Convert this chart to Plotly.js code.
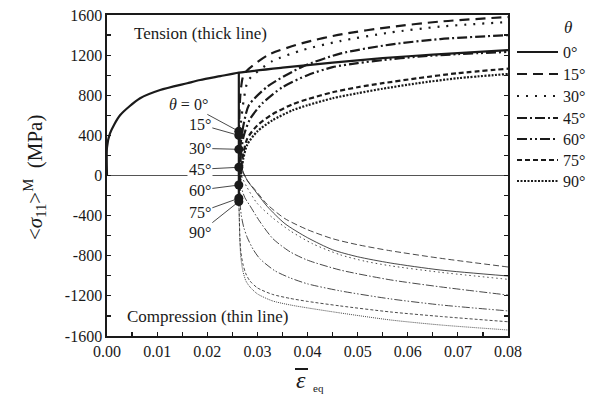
<!DOCTYPE html>
<html><head><meta charset="utf-8">
<script src="https://cdn.plot.ly/plotly-3.0.1.min.js"></script>
<style>html,body{margin:0;padding:0;background:#fff}#c{width:603px;height:396px}</style>
</head><body><div id="c"></div>
<script>
// ---- data ----
const angleNames = ['0°','15°','30°','45°','60°','75°','90°'];
const epsUnload = 0.0263;
// common loading curve (also 0° tension)
const loadX = [0, 0, 0.0006, 0.0026, 0.0066, 0.0106, 0.016, 0.0186, 0.0226, 0.0263, 0.035, 0.045, 0.055, 0.065, 0.08];
const loadY = [0, 280, 420, 600, 770, 852, 920, 952, 990, 1025, 1075, 1125, 1170, 1205, 1250];
// residual stress points after unloading
const dotY = [440, 400, 261, 82, -95, -227, -260];
// tension reloading (thick)
const t15x = [0.0263, 0.0266, 0.0271, 0.0279, 0.0321, 0.039, 0.047, 0.0565, 0.0665, 0.08];
const t15y = [400, 800, 980, 1045, 1200, 1320, 1410, 1480, 1535, 1580];
const t30x = [0.0263, 0.0267, 0.0273, 0.0282, 0.033, 0.039, 0.0465, 0.0565, 0.0665, 0.08];
const t30y = [261, 520, 760, 950, 1140, 1250, 1340, 1425, 1485, 1530];
const t45x = [0.0263, 0.0267, 0.0273, 0.0283, 0.0321, 0.039, 0.0465, 0.0565, 0.0665, 0.08];
const t45y = [82, 330, 520, 700, 890, 1085, 1215, 1305, 1360, 1400];
const t60x = [0.0263, 0.0266, 0.0272, 0.0285, 0.031, 0.035, 0.040, 0.045, 0.050, 0.055, 0.062, 0.07, 0.08];
const t60y = [-95, 150, 380, 560, 720, 880, 1000, 1080, 1120, 1150, 1185, 1210, 1232];
const t75x = [0.0263, 0.0266, 0.0272, 0.028, 0.030, 0.033, 0.037, 0.040, 0.045, 0.050, 0.055, 0.062, 0.07, 0.08];
const t75y = [-227, 0, 220, 370, 500, 610, 710, 760, 830, 880, 920, 970, 1020, 1065];
const t90x = [0.0263, 0.0266, 0.0272, 0.028, 0.030, 0.033, 0.037, 0.040, 0.045, 0.050, 0.055, 0.062, 0.07, 0.08];
const t90y = [-260, -50, 170, 310, 440, 550, 650, 700, 770, 820, 865, 920, 970, 1012];
// compression reloading (thin)
const c0x = [0.0263, 0.0266, 0.0270, 0.0280, 0.0295, 0.032, 0.0355, 0.040, 0.045, 0.050, 0.0565, 0.0665, 0.08];
const c0y = [440, 250, 60, -50, -150, -310, -480, -620, -740, -810, -872, -942, -1002];
const c15x = [0.0263, 0.0266, 0.0270, 0.0280, 0.0295, 0.032, 0.0355, 0.040, 0.045, 0.050, 0.0565, 0.0665, 0.08];
const c15y = [400, 230, 50, -50, -140, -290, -430, -540, -630, -690, -750, -825, -912];
const c30x = [0.0263, 0.0266, 0.0270, 0.0279, 0.0299, 0.033, 0.0365, 0.041, 0.0465, 0.0515, 0.0565, 0.0665, 0.08];
const c30y = [261, 100, -20, -115, -274, -420, -550, -680, -790, -855, -900, -965, -1035];
const c45x = [0.0263, 0.0267, 0.0275, 0.0285, 0.0305, 0.0331, 0.0365, 0.0399, 0.0465, 0.0565, 0.0665, 0.08];
const c45y = [82, -100, -220, -300, -460, -630, -760, -842, -942, -1040, -1110, -1192];
const c60x = [0.0263, 0.0265, 0.0268, 0.0273, 0.0280, 0.0292, 0.0305, 0.0335, 0.0365, 0.040, 0.0465, 0.0565, 0.0665, 0.08];
const c60y = [-95, -250, -400, -520, -620, -740, -830, -950, -1020, -1080, -1150, -1230, -1290, -1350];
const c75x = [0.0263, 0.0264, 0.0265, 0.0267, 0.0271, 0.0277, 0.0285, 0.030, 0.033, 0.0365, 0.040, 0.0465, 0.0565, 0.0665, 0.08];
const c75y = [-227, -420, -600, -760, -880, -980, -1050, -1120, -1185, -1225, -1255, -1300, -1360, -1405, -1458];
const c90x = [0.0263, 0.0264, 0.0265, 0.0267, 0.0271, 0.0277, 0.0285, 0.030, 0.033, 0.0365, 0.040, 0.0465, 0.0565, 0.0665, 0.08];
const c90y = [-260, -450, -650, -820, -950, -1050, -1110, -1180, -1250, -1290, -1320, -1370, -1440, -1490, -1540];
// axis ticks
const yTickVals = [-1600, -1200, -800, -400, 0, 400, 800, 1200, 1600];
const yTickText = ['-1600', '-1200', '-800', '-400', '0', '400', '800', '1200', '1600'];

// ---- styles ----
const ink = '#1a1a1a';
const thickW = 2.2, thinW = 0.8;
const thickDash = ['solid', '10px,6px', '2px,7px', '10px,3px,2px,3px', '10px,3px,2px,3px,2px,3px', '5px,3px', '2px,1.5px'];
const thinDash = ['solid', '6px,3px', '1.5px,3px', '8px,2px,1.5px,2px', '8px,2px,1.5px,2px,1.5px,2px', '3px,2px', '1px,1px'];
const tensX = [loadX, t15x, t30x, t45x, t60x, t75x, t90x];
const tensY = [loadY, t15y, t30y, t45y, t60y, t75y, t90y];
const compX = [c0x, c15x, c30x, c45x, c60x, c75x, c90x];
const compY = [c0y, c15y, c30y, c45y, c60y, c75y, c90y];

const traces = [];
for (let i = 0; i < 7; i++) {
  traces.push({x: compX[i], y: compY[i], mode: 'lines', showlegend: false, hoverinfo: 'skip',
    line: {color: ink, width: thinW, dash: thinDash[i], shape: 'spline', smoothing: 0.7}});
}
for (let i = 0; i < 7; i++) {
  traces.push({x: tensX[i], y: tensY[i], mode: 'lines', name: angleNames[i], showlegend: false,
    line: {color: ink, width: thickW, dash: thickDash[i], shape: 'spline', smoothing: 0.7}});
}
// unloading line
traces.push({x: [epsUnload, epsUnload], y: [loadY[9], dotY[6]], mode: 'lines', showlegend: false,
  line: {color: ink, width: thickW}});
// residual points
traces.push({x: dotY.map(() => epsUnload), y: dotY, mode: 'markers', showlegend: false,
  marker: {color: ink, size: 9}});

const font = 'Liberation Serif, Times New Roman, serif';
const P = (px) => (px - 107) / 401, Q = (py) => (336 - py) / 321;

const labelOff = [[-50, -27], [-39, -11], [-39, -1], [-39, 2], [-39, 5], [-39, 14], [-39, 31]];
const labelText = ['<i>θ</i> = 0°', '15°', '30°', '45°', '60°', '75°', '90°'];
const annotations = labelText.map((t, i) => ({
  x: epsUnload, y: dotY[i], xref: 'x', yref: 'y', text: t, showarrow: true,
  arrowhead: 0, arrowwidth: 0.8, arrowcolor: ink, ax: labelOff[i][0], ay: labelOff[i][1],
  standoff: 3, font: {size: 16, color: ink}, bgcolor: i === 3 ? '#fff' : 'rgba(0,0,0,0)', borderpad: 1
}));
const paperText = (px, py, text, size, extra) => Object.assign({xref: 'paper', yref: 'paper', x: P(px), y: Q(py),
  xanchor: 'center', yanchor: 'middle', text: text, showarrow: false, font: {size: size, color: ink}}, extra || {});
annotations.push(
  paperText(200, 33, 'Tension (thick line)', 17),
  paperText(207, 316, 'Compression (thin line)', 17),
  paperText(568, 27, '<i>θ</i>', 17),
  paperText(301, 380, '<i>ε</i>', 24, {borderpad: 0}),
  paperText(318, 388, 'eq', 11, {borderpad: 0}),
  paperText(35, 178, '&lt;<i>σ</i><sub>11</sub>&gt;<sup>M</sup>  (MPa)', 21, {textangle: -90})
);
// hand-placed legend (line samples + labels)
const legY = [52, 74, 96, 118, 139, 160, 181];
const shapes = [
  {type: 'line', xref: 'paper', yref: 'paper', x0: P(295), x1: P(308), y0: Q(369), y1: Q(369), line: {color: ink, width: 2}}
];
for (let i = 0; i < 7; i++) {
  shapes.push({type: 'line', xref: 'paper', yref: 'paper', x0: P(517), x1: P(558), y0: Q(legY[i]), y1: Q(legY[i]),
    line: {color: ink, width: thickW, dash: thickDash[i]}});
  annotations.push(paperText(561, legY[i], angleNames[i], 16, {xanchor: 'left'}));
}

const layout = {
  width: 603, height: 396,
  margin: {l: 107, r: 95, t: 15, b: 60},
  paper_bgcolor: '#fff', plot_bgcolor: '#fff',
  font: {family: font, size: 16, color: ink},
  showlegend: false,
  xaxis: {range: [0, 0.08], dtick: 0.01, tick0: 0, tickformat: '.2f', ticks: 'inside', ticklen: 4, tickwidth: 1.2,
    showline: true, linecolor: ink, linewidth: 1.6, mirror: true, showgrid: false, zeroline: false,
    minor: {dtick: 0.005, ticks: 'inside', ticklen: 4, tickwidth: 1.2, tickcolor: ink}, tickcolor: ink,
    tickfont: {size: 16}},
  yaxis: {range: [-1600, 1600], tickmode: 'array', tickvals: yTickVals, ticktext: yTickText, ticks: 'inside', ticklen: 4,
    tickwidth: 1.2, tickcolor: ink, showline: true, linecolor: ink, linewidth: 1.6, mirror: 'allticks', showgrid: false,
    zeroline: true, zerolinecolor: '#555', zerolinewidth: 1.2,
    minor: {tickmode: 'linear', tick0: 0, dtick: 200, ticks: 'inside', ticklen: 4, tickwidth: 1.2, tickcolor: ink},
    tickfont: {size: 16}},
  shapes: shapes,
  annotations: annotations
};
Plotly.newPlot('c', traces, layout, {staticPlot: true, displayModeBar: false});
</script></body></html>
